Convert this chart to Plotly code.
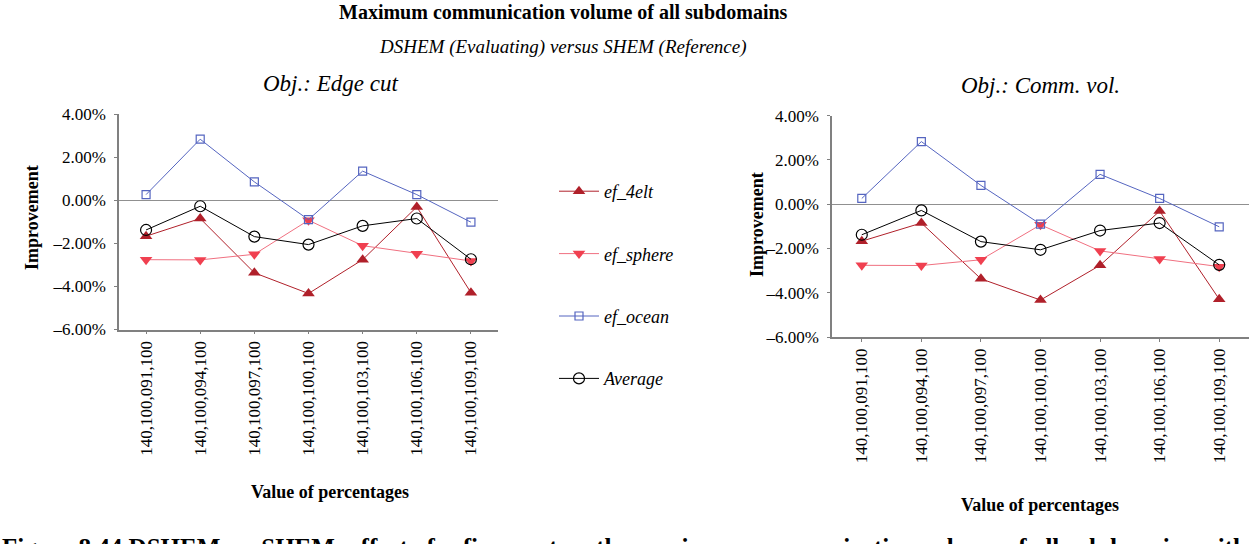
import plotly.graph_objects as go

W, H = 1250, 544

categories = ["140,100,091,100", "140,100,094,100", "140,100,097,100", "140,100,100,100",
              "140,100,103,100", "140,100,106,100", "140,100,109,100"]

# Obj.: Edge cut (values in %)
edge_4elt = [-1.67, -0.85, -3.37, -4.33, -2.76, -0.31, -4.29]
edge_sphere = [-2.76, -2.77, -2.51, -0.93, -2.11, -2.48, -2.82]
edge_ocean = [0.26, 2.83, 0.85, -0.90, 1.35, 0.26, -1.02]
edge_avg = [-1.38, -0.28, -1.69, -2.06, -1.19, -0.85, -2.74]

# Obj.: Comm. vol. (values in %)
comm_4elt = [-1.67, -0.85, -3.37, -4.33, -2.76, -0.31, -4.29]
comm_sphere = [-2.76, -2.77, -2.51, -0.93, -2.11, -2.48, -2.82]
comm_ocean = [0.26, 2.83, 0.85, -0.90, 1.35, 0.26, -1.02]
comm_avg = [-1.38, -0.28, -1.69, -2.06, -1.19, -0.85, -2.74]

series_names = ["ef_4elt", "ef_sphere", "ef_ocean", "Average"]
ytick_vals = [4, 2, 0, -2, -4, -6]
ytick_text = ["4.00%", "2.00%", "0.00%", "–2.00%", "–4.00%", "–6.00%"]

SERIF = "Liberation Serif, Times New Roman, serif"

styles = [
    dict(line=dict(color="#B0202A", width=1), marker=dict(symbol="triangle-up", size=11, color="#B0202A")),
    dict(line=dict(color="#F07080", width=1), marker=dict(symbol="triangle-down", size=11, color="#F04050")),
    dict(line=dict(color="#5565C0", width=1), marker=dict(symbol="square-open", size=8, color="#5565C0", line=dict(width=1.2))),
    dict(line=dict(color="#000000", width=1), marker=dict(symbol="circle-open", size=11, color="#000000", line=dict(width=1.2))),
]

fig = go.Figure()

left = [edge_4elt, edge_sphere, edge_ocean, edge_avg]
right = [comm_4elt, comm_sphere, comm_ocean, comm_avg]

for i, (name, vals) in enumerate(zip(series_names, left)):
    fig.add_trace(go.Scatter(x=categories, y=vals, name=name, mode="lines+markers",
                             xaxis="x", yaxis="y", legendgroup=name, showlegend=True, **styles[i]))
for i, (name, vals) in enumerate(zip(series_names, right)):
    fig.add_trace(go.Scatter(x=categories, y=vals, name=name, mode="lines+markers",
                             xaxis="x2", yaxis="y2", legendgroup=name, showlegend=False, **styles[i]))

def px_x(p):
    return p / W

def px_y(p):
    return 1 - p / H

axis_common = dict(showgrid=False, showline=True, linecolor="#808080", linewidth=1.5,
                   ticks="outside", ticklen=3, tickcolor="#808080", mirror=False)

fig.update_layout(
    width=W, height=H,
    margin=dict(l=0, r=0, t=0, b=0, autoexpand=False),
    paper_bgcolor="white", plot_bgcolor="white",
    font=dict(family=SERIF, color="black"),
    xaxis=dict(domain=[px_x(119), px_x(498)], anchor="y", type="category",
               range=[-0.5, 6.5], tickangle=-90, tickfont=dict(size=17, family=SERIF), **axis_common),
    yaxis=dict(domain=[px_y(329.5), px_y(114)], anchor="x", range=[-6, 4],
               tickvals=ytick_vals, ticktext=ytick_text, tickfont=dict(size=17, family=SERIF),
               ticklabelstandoff=5,
               zeroline=True, zerolinecolor="#909090", zerolinewidth=1, **axis_common),
    xaxis2=dict(domain=[px_x(832), px_x(1249)], anchor="y2", type="category",
                range=[-0.5, 6.5], tickangle=-90, tickfont=dict(size=17, family=SERIF), **axis_common),
    yaxis2=dict(domain=[px_y(337), px_y(115.7)], anchor="x2", range=[-6, 4],
                tickvals=ytick_vals, ticktext=ytick_text, tickfont=dict(size=17, family=SERIF),
                ticklabelstandoff=5,
                zeroline=True, zerolinecolor="#909090", zerolinewidth=1, **axis_common),
    legend=dict(x=px_x(554), y=px_y(173), xanchor="left", yanchor="top",
                font=dict(family=SERIF, size=18, style="italic"),
                tracegroupgap=36, itemwidth=40, bgcolor="rgba(0,0,0,0)"),
    showlegend=True,
)

annotations = [
    dict(text="<b>Maximum communication volume of all subdomains</b>", x=px_x(563), y=px_y(12),
         font=dict(size=20, family=SERIF)),
    dict(text="<i>DSHEM (Evaluating) versus SHEM (Reference)</i>", x=px_x(563), y=px_y(47),
         font=dict(size=19, family=SERIF)),
    dict(text="<i>Obj.: Edge cut</i>", x=px_x(330), y=px_y(83), font=dict(size=23, family=SERIF)),
    dict(text="<i>Obj.: Comm. vol.</i>", x=px_x(1040), y=px_y(85), font=dict(size=23, family=SERIF)),
    dict(text="<b>Improvement</b>", x=px_x(32), y=px_y(218), textangle=-90, font=dict(size=18, family=SERIF)),
    dict(text="<b>Improvement</b>", x=px_x(757), y=px_y(225), textangle=-90, font=dict(size=18, family=SERIF)),
    dict(text="<b>Value of percentages</b>", x=px_x(330), y=px_y(492), font=dict(size=18, family=SERIF)),
    dict(text="<b>Value of percentages</b>", x=px_x(1040), y=px_y(505), font=dict(size=18, family=SERIF)),
    dict(text="<b>Figure 8.44 DSHEM vs. SHEM: effect of refinement on the maximum communication volume of all subdomains with</b>",
         x=0, y=px_y(532), xanchor="left", yanchor="top", font=dict(size=25, family=SERIF)),
]
for a in annotations:
    a.setdefault("xanchor", "center")
    a.setdefault("yanchor", "middle")
    a.update(xref="paper", yref="paper", showarrow=False)
fig.update_layout(annotations=annotations)

fig.write_html("out.html", config={"displayModeBar": False},
               post_script="document.body.style.margin='0';document.body.style.overflow='hidden';")
